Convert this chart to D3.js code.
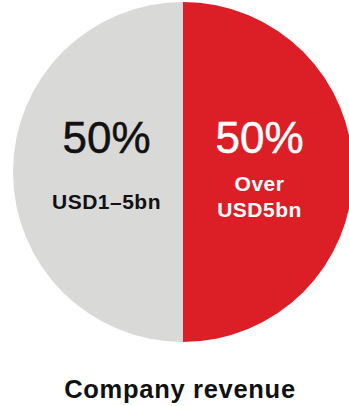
<!DOCTYPE html>
<html>
<head>
<meta charset="utf-8">
<script src="https://cdn.jsdelivr.net/npm/d3@7"></script>
<style>
  html, body { margin: 0; padding: 0; background: #ffffff; }
  svg { display: block; }
  text { font-family: "Liberation Sans", Arial, Helvetica, sans-serif; }
</style>
</head>
<body>
<svg id="chart" width="349" height="406"></svg>
<script>
// Revenue split of companies
const categories = ["USD1–5bn", "Over USD5bn"];
const labelLines = [["USD1–5bn"], ["Over", "USD5bn"]];
const shares = [50, 50];
const colors = ["#d9d9d8", "#dc1f27"];
const textColors = ["#111111", "#ffffff"];
const title = "Company revenue";

const svg = d3.select("#chart");
const cx = 183, cy = 172, radius = 170;

// Slices start at 12 o'clock; the first category fills the left half
const pie = d3.pie()
  .sort(null)
  .value(d => d.value)
  .startAngle(0)
  .endAngle(-2 * Math.PI);

const data = categories.map((c, i) => ({ name: c, value: shares[i], color: colors[i], text: textColors[i], lines: labelLines[i] }));
const arcs = pie(data);
const arc = d3.arc().innerRadius(0).outerRadius(radius);

const g = svg.append("g").attr("transform", `translate(${cx},${cy})`);

g.selectAll("path.slice")
  .data(arcs)
  .join("path")
  .attr("class", "slice")
  .attr("d", arc)
  .attr("fill", d => d.data.color);

// Label positions: horizontally at the centroid of each half
const labelArc = d3.arc().innerRadius(0).outerRadius(radius * 0.9);

const labels = g.selectAll("g.label")
  .data(arcs)
  .join("g")
  .attr("class", "label")
  .attr("transform", d => `translate(${labelArc.centroid(d)[0]},0)`);

// Percentage, slightly thickened with a thin outline in the same colour
labels.append("text")
  .attr("text-anchor", "middle")
  .attr("y", -19)
  .attr("font-size", 44)
  .attr("fill", d => d.data.text)
  .attr("stroke", d => d.data.text)
  .attr("stroke-width", 0.5)
  .text(d => d3.format(".0f")(d.data.value) + "%");

labels.each(function(d) {
  const sel = d3.select(this);
  const n = d.data.lines.length;
  const baseY = n === 1 ? 37 : 19;
  d.data.lines.forEach((line, i) => {
    sel.append("text")
      .attr("text-anchor", "middle")
      .attr("y", baseY + i * 26)
      .attr("font-size", 21)
      .attr("font-weight", 700)
      .attr("letter-spacing", 0.5)
      .attr("fill", d.data.text)
      .text(line);
  });
});

svg.append("text")
  .attr("x", 180)
  .attr("y", 398)
  .attr("text-anchor", "middle")
  .attr("font-size", 25.5)
  .attr("font-weight", 700)
  .attr("letter-spacing", 0.7)
  .attr("fill", "#111111")
  .text(title);
</script>
</body>
</html>
